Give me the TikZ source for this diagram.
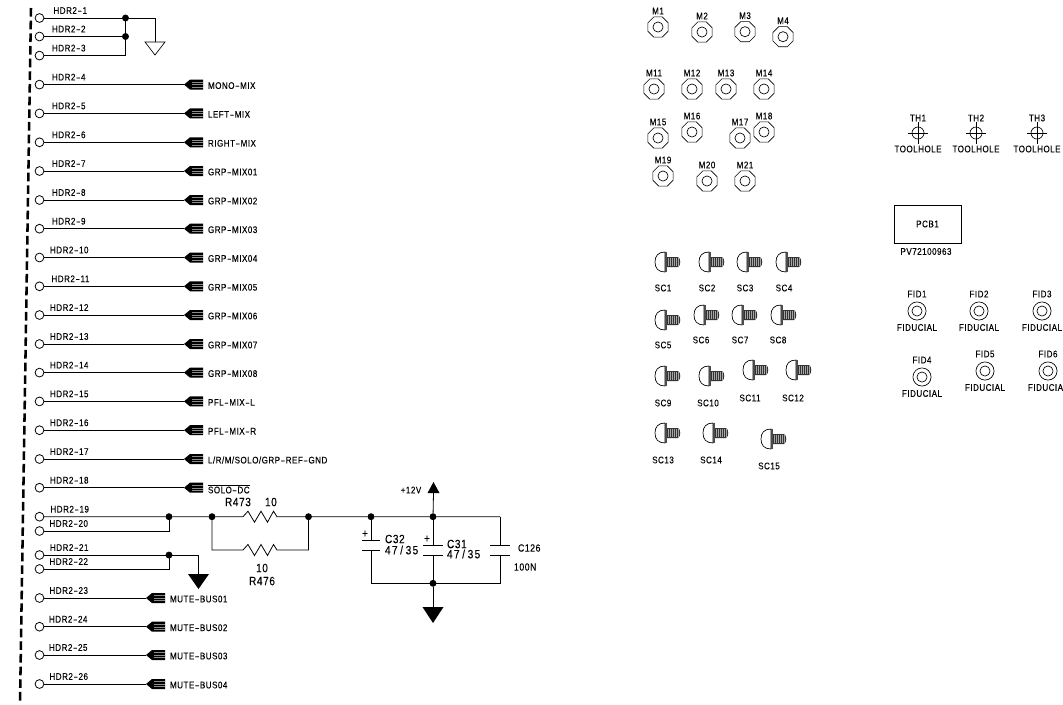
\documentclass[tikz,border=0pt]{standalone}
\usepackage{fontspec}
\usepackage{graphicx}
\setmainfont{Liberation Sans}[LetterSpace=5,FakeStretch=0.84,FakeBold=0.15]
\usetikzlibrary{shapes.geometric}
\newcommand{\hy}{\kern.4pt\scalebox{1.7}[1]{-}\kern.4pt}
\newcommand{\sm}{\fontsize{7.2}{8}\selectfont}
\newcommand{\bg}{\fontsize{9}{10}\selectfont}
\newcommand{\lrm}{L/R/M/SOLO/GRP\hy REF\hy GND}
\newcommand{\solo}{\raisebox{0pt}{$\overline{\hbox{SOLO\hy DC}}$}}
\newcommand{\capv}{4\kern1pt7\kern2pt/\kern2pt3\kern1pt5}
\tikzset{
  wire/.style={line width=0.6pt,black},
  txt/.style={inner sep=0pt,outer sep=0pt,font=\sm,text=black},
  txtw/.style={txt,anchor=west},
  txtb/.style={inner sep=0pt,outer sep=0pt,font=\bg,text=black},
  pinc/.style={circle,draw,line width=0.6pt,minimum size=6.6pt,inner sep=0pt,outer sep=0pt},
  dotj/.style={circle,fill=black,minimum size=5.2pt,inner sep=0pt,outer sep=0pt},
  octnut/.style={regular polygon,regular polygon sides=8,draw,line width=0.5pt,minimum size=16.4pt,inner sep=0pt,outer sep=0pt},
  ringo/.style={circle,draw,line width=0.5pt,minimum size=13.6pt,inner sep=0pt,outer sep=0pt},
  ringi/.style={circle,draw,line width=0.5pt,minimum size=7.6pt,inner sep=0pt,outer sep=0pt},
  tool/.style={circle,draw,line width=0.5pt,minimum size=9pt,inner sep=0pt,outer sep=0pt},
  plate/.style={line width=0.6pt,black},
  screwpic/.pic={
    \draw[line width=0.5pt,fill=white] (10,-10) .. controls (3,-10) and (0,-6) .. (0,0) .. controls (0,6) and (3,10) .. (10,10) -- cycle;
    \fill[black!70] (9.5,-10) rectangle (12,10);
    \fill[black!80] (12,-5) -- (23,-5) .. controls (26,-4) and (26,4) .. (23,5) -- (12,5) -- cycle;
    \foreach \q in {13.5,15.5,...,24}{\draw[black!35,line width=0.25pt] (\q,-4.4) -- (\q,4.4);}
  },
  flagpic/.pic={
    \fill[black] (0,0) -- (6,-5) -- (19,-5) -- (19,5) -- (6,5) -- cycle;
    \foreach \q in {-2.5,0,2.5}{\draw[black!45,line width=0.2pt] (8,\q) -- (19,\q);}
  }
}
\begin{document}
\begin{tikzpicture}[x=0.75pt,y=-0.75pt]
\useasboundingbox (0,0) rectangle (1063,704);
% border dash
\coordinate (bt) at (31,8);
\coordinate (bb) at (20,704);
\draw[line width=1.9pt,dash pattern=on 6.5pt off 3pt] (bt) -- (bb);
% pins
\foreach \n/\y/\lx in {1/18/53.5,2/36.5/52,3/55.6/52,4/84.6/52,5/113.4/52,6/142.3/52,7/171/52,8/200/52,9/228.7/52,10/257.5/50,11/286.3/51.5,12/315/50,13/344/50,14/372.6/50,15/401.4/50,16/430.2/50,17/459/50,18/487.7/50,19/516.7/50.5,20/531/49.5,21/555/50,22/569/49.5,23/598/49.5,24/626.7/49,25/655/49,26/684/49.5}{
  \node[pinc] (p\n) at (39.5,\y) {};
  \node[txtw] (hl\n) at (\lx,\y-7.5) {HDR2\hy\n};
}
% flag rows
\foreach \n/\t in {4/MONO\hy MIX,5/LEFT\hy MIX,6/RIGHT\hy MIX,7/GRP\hy MIX01,8/GRP\hy MIX02,9/GRP\hy MIX03,10/GRP\hy MIX04,11/GRP\hy MIX05,12/GRP\hy MIX06,13/GRP\hy MIX07,14/GRP\hy MIX08,15/PFL\hy MIX\hy L,16/PFL\hy MIX\hy R,17/\lrm,18/\solo}{
  \coordinate (f\n) at (184,0 |- p\n);
  \draw[wire] (p\n) -- (f\n);
  \pic at (f\n) {flagpic};
  \path (f\n) ++(24,1) node[txtw] (fl\n) {\t};
}
\foreach \n/\t in {23/MUTE\hy BUS01,24/MUTE\hy BUS02,25/MUTE\hy BUS03,26/MUTE\hy BUS04}{
  \coordinate (f\n) at (146,0 |- p\n);
  \draw[wire] (p\n) -- (f\n);
  \pic at (f\n) {flagpic};
  \path (f\n) ++(24,1) node[txtw] (fl\n) {\t};
}
% ground group top
\node[dotj] (j1) at (125.5,18) {};
\node[dotj] (j2) at (125.5,36.5) {};
\coordinate (g1t) at (155,42);
\coordinate (g1c) at (155,18);
\coordinate (j3) at (125.5,55.6);
\draw[wire] (p1) -- (j1) -- (g1c) -- (g1t);
\draw[wire] (p2) -- (j2);
\draw[wire] (p3) -- (j3) -- (j1);
\draw[line width=0.5pt] (g1t) ++(-10,0) -- ++(20,0) -- ++(-10,13) -- cycle;
% rows 19-20
\node[dotj] (j19) at (169,516.7) {};
\coordinate (c20) at (169,531);
\draw[wire] (p20) -- (c20) -- (j19);
\node[dotj] (j4) at (212,516.7) {};
\node[dotj] (j5) at (308.5,516.7) {};
\node[dotj] (j6) at (371,516.7) {};
\node[dotj] (j7) at (433,516.7) {};
\coordinate (ra) at (243,516.7);
\coordinate (rb) at (277,516.7);
\coordinate (rc) at (243,550);
\coordinate (rd) at (277,550);
\coordinate (l1) at (212,550);
\coordinate (l2) at (308.5,550);
\coordinate (e1) at (500,516.7);
\draw[wire] (p19) -- (j19) -- (j4) -- (ra) -- ++(5,-5.5) -- ++(6.5,11) -- ++(6.5,-11) -- ++(6.5,11) -- ++(6,-11) -- (rb) -- (j5) -- (j6) -- (j7) -- (e1);
\draw[wire] (j4) -- (l1) -- (rc) -- ++(5,-5.5) -- ++(6.5,11) -- ++(6.5,-11) -- ++(6.5,11) -- ++(6,-11) -- (rd) -- (l2) -- (j5);
\node[txtb,anchor=west] (r473) at (225,502) {R473};
\node[txtb,anchor=west] (r473v) at (265,502) {10};
\node[txtb] (r476v) at (262,568) {10};
\node[txtb] (r476) at (262,581) {R476};
% rows 21-22
\node[dotj] (j21) at (169,555) {};
\coordinate (c22) at (169,569);
\coordinate (g2c) at (198.5,555);
\coordinate (g2t) at (198.5,574);
\draw[wire] (p21) -- (j21) -- (g2c) -- (g2t);
\draw[wire] (p22) -- (c22) -- (j21);
\fill (g2t) ++(-10.5,0) -- ++(21,0) -- ++(-10.5,15) -- cycle;
% caps
\node[dotj] (j8) at (433,583.3) {};
\coordinate (b1) at (371,583.3);
\coordinate (b3) at (500,583.3);
\coordinate (c32a) at (371,540.7);
\coordinate (c32b) at (371,550);
\coordinate (c31a) at (433,545);
\coordinate (c31b) at (433,555);
\coordinate (c126a) at (500,545);
\coordinate (c126b) at (500,555);
\draw[wire] (j6) -- (c32a);
\draw[wire] (c32b) -- (b1) -- (j8) -- (b3) -- (c126b);
\draw[wire] (e1) -- (c126a);
\draw[wire] (j7) -- (c31a);
\draw[wire] (c31b) -- (j8);
\foreach \c/\w in {c32a/9,c32b/9,c31a/10,c31b/10,c126a/10,c126b/10}{
  \draw[plate] (\c) ++(-\w,0) -- ++(2*\w,0);
}
\node[txtb] (pl1) at (365,534) {+};
\node[txtb] (pl2) at (427,539) {+};
\node[txtb,anchor=west] (c32) at (385,539) {C32};
\node[txtb,anchor=west] (c32v) at (385,550) {\capv};
\node[txtb,anchor=west] (c31) at (447,544) {C31};
\node[txtb,anchor=west] (c31v) at (447,554) {\capv};
\node[txt,anchor=west,font=\fontsize{7.8}{8}\selectfont] (c126) at (518,548) {C126};
\node[txt,anchor=west,font=\fontsize{7.8}{8}\selectfont] (c126v) at (514,567) {100N};
\coordinate (v12) at (433.5,493);
\coordinate (g3) at (433,607);
\draw[wire] (v12) -- (j7);
\draw[wire] (j8) -- (g3);
\fill (v12) ++(-6,0) -- ++(12,0) -- ++(-6,-11) -- cycle;
\fill (g3) ++(-10.5,0) -- ++(21,0) -- ++(-10.5,16) -- cycle;
\node[txt] (v12l) at (411,490) {+12V};
% mounts
\foreach \n/\x/\y in {1/658/27,2/702/32,3/745/31.7,4/783/36.7,11/654/89,12/692/89,13/726/89,14/764/89,15/658/138,16/692/132,17/740/138,18/764/132,19/663/176,20/707/181,21/745/181}{
  \node[octnut] (m\n) at (\x,\y) {};
  \node[ringi] (mi\n) at (\x,\y) {};
  \node[txt] (ml\n) at (\x,\y-16) {M\n};
}
% screws
\foreach \n/\x/\y/\lx/\ly in {1/655/262/663/288,2/699/262/707/288,3/737/262/745/288,4/776/262/784/288,5/655/320/663/345,6/694/315/701/340,7/732/315/740/340,8/771/315/778/340,9/655/376/663/403,10/699/376/708/403,11/743/370/750/398,12/786/370/793/398,13/655/433/663/460,14/703/433/711/460,15/761/439/769/466}{
  \pic at (\x,\y) {screwpic};
  \node[txt] (sl\n) at (\lx,\ly) {SC\n};
}
% toolholes
\foreach \n/\x in {1/918,2/976,3/1037}{
  \node[tool] (th\n) at (\x,133) {};
  \draw[line width=0.5pt] (\x-10,133) -- (\x+10,133) (\x,122) -- (\x,144);
  \node[txt] (tl\n) at (\x,118) {TH\n};
  \node[txt] (tt\n) at (\x,149) {TOOLHOLE};
}
% pcb
\node[draw,line width=0.6pt,minimum width=50.25pt,minimum height=28.5pt,inner sep=0pt,font=\sm] (pcb) at (927.5,224) {PCB1};
\node[txt] (pv) at (926,251.5) {PV72100963};
% fiducials
\foreach \n/\x/\y in {1/917/311,2/979/311,3/1042/311,4/922/377,5/985/371,6/1048/371}{
  \node[ringo] (fd\n) at (\x,\y) {};
  \node[ringi] (fi\n) at (\x,\y) {};
  \node[txt] (ft\n) at (\x,\y-17) {FID\n};
  \node[txt] (fb\n) at (\x,\y+16.5) {FIDUCIAL};
}
\end{tikzpicture}
\end{document}
